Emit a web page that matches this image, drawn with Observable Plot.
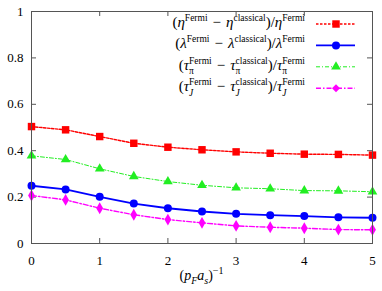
<!DOCTYPE html>
<html>
<head>
<meta charset="utf-8">
<script src="https://cdn.jsdelivr.net/npm/d3@7"></script>
<script src="https://cdn.jsdelivr.net/npm/@observablehq/plot@0.6"></script>
<style>
  html, body { margin: 0; padding: 0; background: #fff; }
  #chart svg { display: block; }
</style>
</head>
<body>
<div id="chart"></div>
<script>
// ---- data ----
const xs      = [0, 0.5, 1, 1.5, 2, 2.5, 3, 3.5, 4, 4.5, 5];
const eta     = [0.504, 0.490, 0.461, 0.432, 0.415, 0.404, 0.395, 0.389, 0.385, 0.384, 0.381];
const lambda  = [0.249, 0.233, 0.201, 0.172, 0.152, 0.138, 0.128, 0.122, 0.118, 0.113, 0.111];
const tauPi   = [0.378, 0.362, 0.322, 0.289, 0.267, 0.251, 0.240, 0.236, 0.228, 0.227, 0.223];
const tauJ    = [0.207, 0.188, 0.152, 0.124, 0.103, 0.089, 0.076, 0.070, 0.066, 0.060, 0.059];
const xTicks  = [0, 1, 2, 3, 4, 5];
const yTicks  = [0, 0.2, 0.4, 0.6, 0.8, 1];

// legend labels as rich-text parts: [text, kind] kind: n (normal), i (italic), sup, sub, subi, ssup (sup stacked over previous sub)
const M = "\u2004−\u2004";
const labelEta = [["(", "n"], ["η", "i"], ["Fermi", "sup"], [M, "n"], ["η", "i"], ["classical", "sup"], [")/", "n"], ["η", "i"], ["Fermi", "sup"]];
const labelLambda = [["(", "n"], ["λ", "i"], ["Fermi", "sup"], [M, "n"], ["λ", "i"], ["classical", "sup"], [")/", "n"], ["λ", "i"], ["Fermi", "sup"]];
const labelTauPi = [["(", "n"], ["τ", "i"], ["π", "sub"], ["Fermi", "ssup"], [M, "n"], ["τ", "i"], ["π", "sub"], ["classical", "ssup"], [")/", "n"], ["τ", "i"], ["π", "sub"], ["Fermi", "ssup"]];
const labelTauJ = [["(", "n"], ["τ", "i"], ["J", "subi"], ["Fermi", "ssup"], [M, "n"], ["τ", "i"], ["J", "subi"], ["classical", "ssup"], [")/", "n"], ["τ", "i"], ["J", "subi"], ["Fermi", "ssup"]];
const xLabel = [["(", "n"], ["p", "i"], ["F", "subi"], ["a", "i"], ["s", "subi"], [")", "n"], ["−1", "sup"]];

const seriesNames = ["eta", "lambda", "tauPi", "tauJ"];
const seriesValues = [eta, lambda, tauPi, tauJ];
const seriesLabels = [labelEta, labelLambda, labelTauPi, labelTauJ];
const seriesColors = ["#ff0000", "#0000ff", "#22ee22", "#ff00ff"];
const seriesDash = ["2.5,1.5", null, "4,2,1,2", "5,2,1.5,2"];
const seriesWidth = [1.4, 1.8, 1.0, 1.4];
const seriesSymbol = ["square", "circle", "triangle", "diamond"];
const seriesR = [4.2, 4, 3.6, 3.6];

// ---- table ----
const rows = [];
seriesNames.forEach((s, k) => xs.forEach((x, i) => rows.push({series: s, k, x, y: seriesValues[k][i]})));

const W = 382, H = 291;
const mL = 31, mR = 10, mT = 11, mB = 48;
const fw = W - mL - mR, fh = H - mT - mB;
const FONT = "'Liberation Serif', 'DejaVu Serif', serif";

const marks = [];
// inward ticks
marks.push(Plot.tickY(yTicks, {y: d => d, stroke: "#555", insetRight: fw - 5}));
marks.push(Plot.tickY(yTicks, {y: d => d, stroke: "#555", insetLeft: fw - 5}));
marks.push(Plot.tickX(xTicks, {x: d => d, stroke: "#555", insetTop: fh - 5}));
marks.push(Plot.tickX(xTicks, {x: d => d, stroke: "#555", insetBottom: fh - 5}));
seriesNames.forEach((s, k) => {
  const d = rows.filter(r => r.k === k);
  marks.push(Plot.line(d, {x: "x", y: "y", stroke: seriesColors[k], strokeWidth: seriesWidth[k], strokeDasharray: seriesDash[k] || undefined}));
  marks.push(Plot.dot(d, {x: "x", y: "y", fill: seriesColors[k], stroke: "none", symbol: () => seriesSymbol[k], r: seriesR[k]}));
});
marks.push(Plot.axisY({ticks: yTicks, tickSize: 0, tickPadding: 8, tickFormat: d => String(d), label: null, fontSize: 13}));
marks.push(Plot.axisX({ticks: xTicks, tickSize: 0, tickPadding: 12, tickFormat: d => String(d), label: null, fontSize: 13}));
marks.push(Plot.frame({stroke: "#555", strokeWidth: 1}));

const plot = Plot.plot({
  width: W, height: H,
  marginLeft: mL, marginRight: mR, marginTop: mT, marginBottom: mB,
  x: {domain: [0, 5]},
  y: {domain: [0, 1]},
  symbol: {type: "identity"},
  style: {fontFamily: FONT, fontSize: "13px", color: "#000", background: "#fff"},
  marks
});
document.getElementById("chart").appendChild(plot);

// ---- rich text helper ----
function rich(textSel, parts, size, subSize) {
  let shift = 0, lastSub = null;
  parts.forEach(([t, kind]) => {
    let target = 0, fs = size, italic = false;
    if (kind === "i") italic = true;
    if (kind === "sup" || kind === "ssup") { target = -size * 0.42; fs = subSize; }
    if (kind === "sub" || kind === "subi") { target = size * 0.3; fs = subSize; italic = kind === "subi"; }
    const ts = textSel.append("tspan").text(t)
      .attr("font-size", fs)
      .attr("font-style", italic ? "italic" : "normal");
    const dy = target - shift;
    if (dy !== 0) ts.attr("dy", dy);
    shift = target;
    if (kind === "ssup" && lastSub) {
      ts.attr("dx", -lastSub.node().getComputedTextLength());
    }
    lastSub = (kind === "sub" || kind === "subi") ? ts : null;
  });
}

const svg = d3.select(plot);
// legend
const right = mL + fw;
const leg = svg.append("g").attr("font-family", FONT);
const symMap = {square: d3.symbolSquare, circle: d3.symbolCircle, triangle: d3.symbolTriangle, diamond: d3.symbolDiamond2};
seriesNames.forEach((s, k) => {
  const cy = mT + 13 + k * 21.4;
  const t = leg.append("text").attr("x", right - 67).attr("y", cy + 3).attr("text-anchor", "end").attr("fill", "#000");
  rich(t, seriesLabels[k], 15, 9.5);
  const ln = leg.append("line").attr("x1", right - 56).attr("x2", right - 17).attr("y1", cy).attr("y2", cy)
    .attr("stroke", seriesColors[k]).attr("stroke-width", seriesWidth[k]);
  if (seriesDash[k]) ln.attr("stroke-dasharray", seriesDash[k]);
  const r = seriesR[k];
  leg.append("path").attr("transform", `translate(${right - 36},${cy})`)
    .attr("d", d3.symbol(symMap[seriesSymbol[k]], Math.PI * r * r)())
    .attr("fill", seriesColors[k]);
});
// x label
const xl = svg.append("text").attr("x", mL + fw / 2).attr("y", H - 11).attr("text-anchor", "middle")
  .attr("font-family", FONT).attr("fill", "#000");
rich(xl, xLabel, 14, 10);
</script>
</body>
</html>
